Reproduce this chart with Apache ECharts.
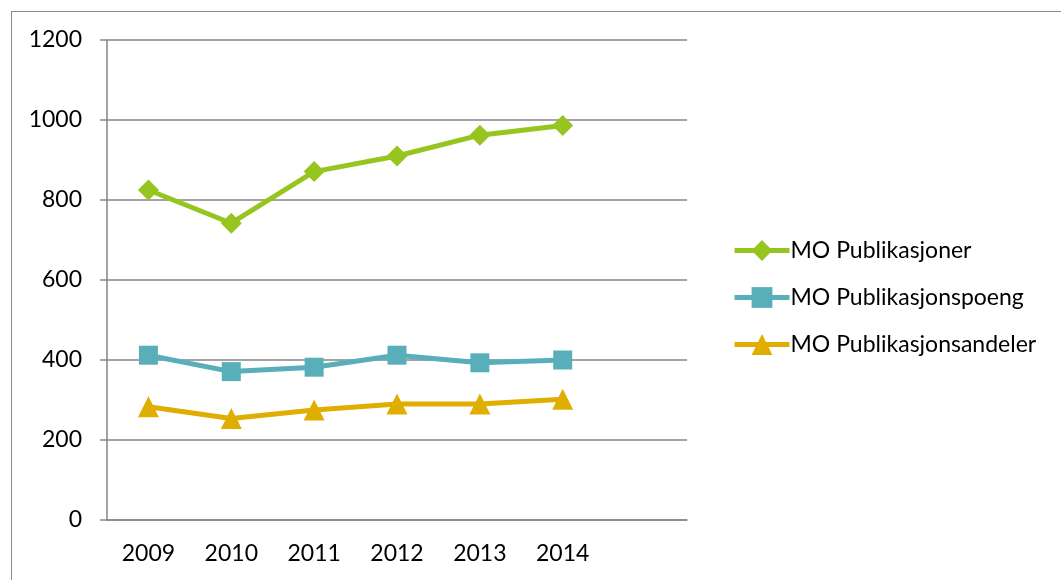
<!DOCTYPE html>
<html>
<head>
<meta charset="utf-8">
<script src="https://cdn.jsdelivr.net/npm/echarts@6/dist/echarts.min.js"></script>
<style>
  html, body { margin: 0; padding: 0; background: #fff; }
  #frame {
    position: absolute; left: 11px; top: 11px; width: 1100px; height: 600px;
    border-left: 1px solid #8c8c8c; border-top: 1px solid #8c8c8c;
  }
  #chart { position: absolute; left: 0; top: 0; width: 1061px; height: 580px; }
</style>
</head>
<body>
<div id="frame"></div>
<div id="chart"></div>
<script>
// years (last slot is empty in the original)
const years = ['2009', '2010', '2011', '2012', '2013', '2014', '']
const publikasjoner = [825, 742, 871, 910, 962, 986]
const publikasjonspoeng = [412, 371, 382, 412, 393, 400]
const publikasjonsandeler = [283, 254, 275, 290, 290, 302]

const font = 'Lato, "Open Sans", sans-serif'
const axisGray = '#868686'

const lineSeries = (name, data, color, symbol, size) => ({
  name,
  type: 'line',
  data,
  symbol,
  symbolSize: size,
  lineStyle: { color, width: 5 },
  itemStyle: { color },
  emphasis: { disabled: true }
})

const option = {
  animation: false,
  textStyle: { fontFamily: font },
  grid: { left: 107, right: 374, top: 40, bottom: 60 },
  legend: {
    orient: 'vertical',
    left: 727,
    top: 234,
    itemWidth: 55,
    itemHeight: 26,
    itemGap: 24,
    lineStyle: { width: 5 },
    textStyle: { fontSize: 23, color: '#000', fontFamily: font, padding: [0, 0, 0, -4] },
    data: ['MO Publikasjoner', 'MO Publikasjonspoeng', 'MO Publikasjonsandeler']
  },
  xAxis: {
    type: 'category',
    data: years,
    axisLine: { lineStyle: { color: axisGray, width: 1.5 } },
    axisTick: { length: 8, lineStyle: { color: axisGray, width: 1.5 } },
    axisLabel: { color: '#000', fontSize: 23, margin: 22, interval: 0 }
  },
  yAxis: {
    type: 'value',
    min: 0,
    max: 1200,
    interval: 200,
    axisLine: { show: true, lineStyle: { color: axisGray, width: 1.5 } },
    axisTick: { show: true, length: 7, lineStyle: { color: axisGray, width: 1.5 } },
    axisLabel: { color: '#000', fontSize: 23, margin: 25, formatter: v => String(v) },
    splitLine: { lineStyle: { color: axisGray, width: 1.5 } }
  },
  series: [
    lineSeries('MO Publikasjoner', publikasjoner, '#97c51f', 'diamond', 21),
    lineSeries('MO Publikasjonspoeng', publikasjonspoeng, '#58afb9', 'rect', 19),
    lineSeries('MO Publikasjonsandeler', publikasjonsandeler, '#e0ae00', 'triangle', 21)
  ]
}

const myChart = echarts.init(document.getElementById('chart'))
myChart.setOption(option)
</script>
</body>
</html>
